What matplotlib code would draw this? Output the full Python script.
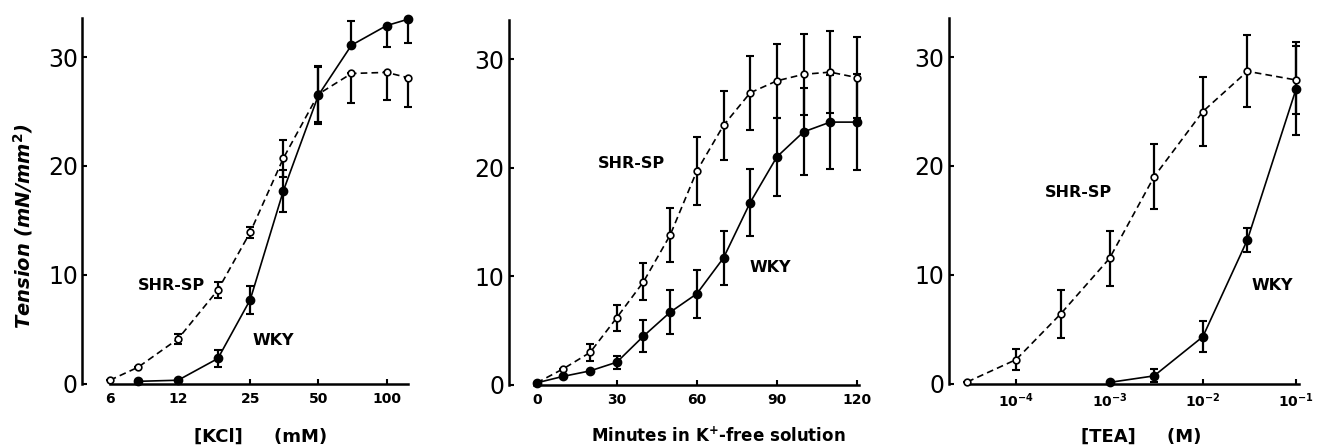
import matplotlib
matplotlib.use("Agg")
import matplotlib.pyplot as plt
import numpy as np

plt.rcParams['font.family'] = ['DejaVu Sans']

# ---------- Panel 1: KCl ----------
kcl_shr_x = [6, 8, 12, 18, 25, 35, 50, 70, 100, 125]
kcl_shr_y = [0.3, 1.5, 4.1, 8.6, 13.9, 20.7, 26.6, 28.5, 28.6, 28.1]
kcl_shr_lo = [0, 0, 0.45, 0.75, 0.5, 1.7, 2.6, 2.7, 2.5, 2.7]
kcl_shr_hi = [0, 0, 0.45, 0.75, 0.5, 1.7, 2.6, 0, 0, 0]

kcl_wky_x = [8, 12, 18, 25, 35, 50, 70, 100, 125]
kcl_wky_y = [0.2, 0.3, 2.3, 7.7, 17.7, 26.5, 31.1, 32.9, 33.5]
kcl_wky_lo = [0, 0, 0.75, 1.3, 1.9, 2.6, 0, 2.0, 2.2]
kcl_wky_hi = [0, 0, 0.75, 1.3, 1.9, 2.6, 2.2, 0, 0]

kcl_ticks = [6, 12, 25, 50, 100]
kcl_ticklabels = ["6", "12", "25", "50", "100"]

# ---------- Panel 2: K+-free time ----------
min_x = [0, 10, 20, 30, 40, 50, 60, 70, 80, 90, 100, 110, 120]
min_shr_y = [0.2, 1.5, 3.0, 6.2, 9.5, 13.8, 19.7, 23.9, 26.9, 28.0, 28.6, 28.8, 28.3]
min_shr_err = [0, 0, 0.8, 1.2, 1.7, 2.5, 3.1, 3.2, 3.4, 3.4, 3.7, 3.8, 3.7]
min_wky_y = [0.2, 0.8, 1.3, 2.1, 4.5, 6.7, 8.4, 11.7, 16.8, 21.0, 23.3, 24.2, 24.2]
min_wky_err = [0, 0, 0, 0.6, 1.5, 2.0, 2.2, 2.5, 3.1, 3.6, 4.0, 4.3, 4.4]
min_ticks = [0, 30, 60, 90, 120]

# ---------- Panel 3: TEA ----------
tea_shr_x = [3e-5, 1e-4, 3e-4, 1e-3, 3e-3, 1e-2, 3e-2, 1e-1]
tea_shr_y = [0.15, 2.2, 6.4, 11.5, 19.0, 25.0, 28.7, 27.9]
tea_shr_err = [0, 1.0, 2.2, 2.5, 3.0, 3.2, 3.3, 3.1]
tea_wky_x = [1e-3, 3e-3, 1e-2, 3e-2, 1e-1]
tea_wky_y = [0.1, 0.7, 4.3, 13.2, 27.1]
tea_wky_err = [0, 0.6, 1.4, 1.1, 4.3]
tea_ticks = [1e-4, 1e-3, 1e-2, 1e-1]
tea_ticklabels = [r"$\mathbf{10^{-4}}$", r"$\mathbf{10^{-3}}$", r"$\mathbf{10^{-2}}$", r"$\mathbf{10^{-1}}$"]

yticks = [0, 10, 20, 30]
ytick_labels = ["0", "10", "20", "30"]

W, H = 1325, 447
fig = plt.figure(figsize=(W / 100, H / 100), dpi=100)


def make_ax(left, right, bottom, top):
    return fig.add_axes([left / W, 1 - bottom / H, (right - left) / W, (bottom - top) / H])


ax1 = make_ax(82, 408.5, 383.5, 18)
ax2 = make_ax(508.5, 858.5, 385, 20)
ax3 = make_ax(948.5, 1298.5, 383.5, 18)

ylim = (0, 33.6)


def style(ax, xb):
    for s in ("top", "right"):
        ax.spines[s].set_visible(False)
    for s in ("left", "bottom"):
        ax.spines[s].set_linewidth(1.8)
    ax.spines["bottom"].set_bounds(xb[0], xb[1])
    ax.set_ylim(*ylim)
    ax.set_yticks(yticks)
    ax.set_yticklabels(ytick_labels, fontsize=17)
    ax.tick_params(axis="y", direction="in", length=3.5, width=1.5, pad=3)
    ax.tick_params(axis="x", direction="in", length=3.5, width=1.5, pad=6, labelsize=10)
    for lab in ax.get_xticklabels():
        lab.set_fontweight("bold")


def series(ax, x, y, lo, hi, filled, dashed):
    ax.errorbar(x, y, yerr=[lo, hi], fmt="none", ecolor="black", elinewidth=1.6,
                capsize=3.0, capthick=1.5, clip_on=False, zorder=2)
    ax.plot(x, y, linestyle=(0, (4, 2.5)) if dashed else "-", color="black",
            linewidth=1.2,
            marker="o", markersize=4.8 if not filled else 5.8,
            markerfacecolor="black" if filled else "white",
            markeredgecolor="black", markeredgewidth=1.2, clip_on=False, zorder=3)


# Panel 1
series(ax1, kcl_shr_x, kcl_shr_y, kcl_shr_lo, kcl_shr_hi, False, True)
series(ax1, kcl_wky_x, kcl_wky_y, kcl_wky_lo, kcl_wky_hi, True, False)
ax1.set_xscale("log")
ax1.set_xlim(4.52, 125)
ax1.set_xticks(kcl_ticks)
ax1.set_xticklabels(kcl_ticklabels)
ax1.xaxis.set_minor_locator(matplotlib.ticker.NullLocator())
style(ax1, (kcl_shr_x[0], kcl_shr_x[-1]))
ax1.text(0.172, 0.268, "SHR-SP", transform=ax1.transAxes, fontsize=11.5,
         fontweight="bold", va="center", ha="left")
ax1.text(0.521, 0.118, "WKY", transform=ax1.transAxes, fontsize=11.5,
         fontweight="bold", va="center", ha="left")
ax1.text(0.546, -0.145, "[KCl]     (mM)", transform=ax1.transAxes, fontsize=13,
         fontweight="bold", va="center", ha="center")

# Panel 2
series(ax2, min_x, min_shr_y, min_shr_err, min_shr_err, False, True)
series(ax2, min_x, min_wky_y, min_wky_err, min_wky_err, True, False)
ax2.set_xlim(-10.6, 120.6)
ax2.set_xticks(min_ticks)
ax2.set_xticklabels([str(t) for t in min_ticks])
style(ax2, (min_x[0] - 1, min_x[-1] + 0.6))
ax2.text(0.254, 0.606, "SHR-SP", transform=ax2.transAxes, fontsize=11.5,
         fontweight="bold", va="center", ha="left")
ax2.text(0.69, 0.322, "WKY", transform=ax2.transAxes, fontsize=11.5,
         fontweight="bold", va="center", ha="left")
ax2.text(0.60, -0.14, "Minutes in K$^{\\mathbf{+}}$-free solution", transform=ax2.transAxes,
         fontsize=12, fontweight="bold", va="center", ha="center")

# Panel 3
series(ax3, tea_shr_x, tea_shr_y, tea_shr_err, tea_shr_err, False, True)
series(ax3, tea_wky_x, tea_wky_y, tea_wky_err, tea_wky_err, True, False)
ax3.set_xscale("log")
ax3.set_xlim(10 ** -4.725, 10 ** -0.975)
ax3.set_xticks(tea_ticks)
ax3.set_xticklabels(tea_ticklabels)
ax3.xaxis.set_minor_locator(matplotlib.ticker.NullLocator())
style(ax3, (tea_shr_x[0], 10 ** -0.975))
ax3.text(0.274, 0.523, "SHR-SP", transform=ax3.transAxes, fontsize=11.5,
         fontweight="bold", va="center", ha="left")
ax3.text(0.866, 0.268, "WKY", transform=ax3.transAxes, fontsize=11.5,
         fontweight="bold", va="center", ha="left")
ax3.text(0.55, -0.145, "[TEA]     (M)", transform=ax3.transAxes, fontsize=13,
         fontweight="bold", va="center", ha="center")

fig.text(23 / W, 1 - 226 / H, "Tension (mN/mm$^{\\mathbf{2}}$)", rotation=90,
         fontsize=14, fontweight="bold", fontstyle="italic", va="center", ha="center")

fig.savefig("out.png", dpi=100)
